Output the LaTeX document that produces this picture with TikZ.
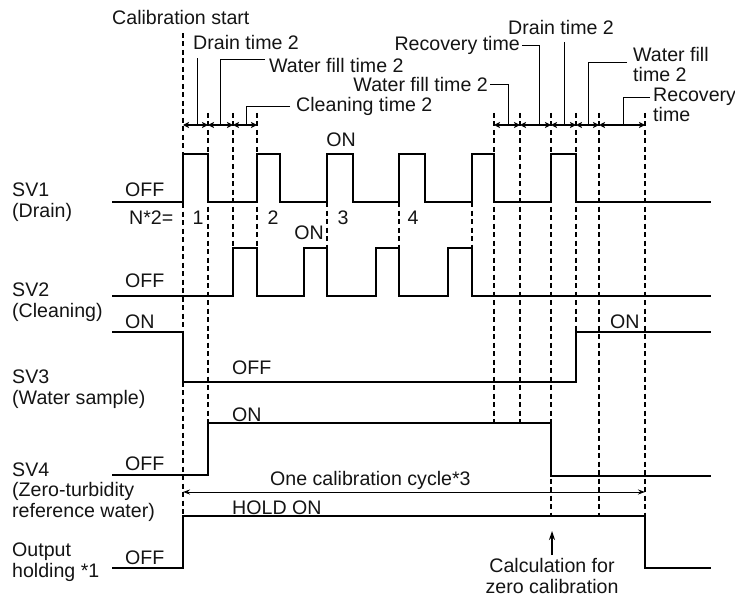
\documentclass[tikz,border=0pt]{standalone}
\usepackage{fontspec}
\setmainfont{Liberation Sans}
\usetikzlibrary{arrows.meta}
\usepackage{xcolor}
\definecolor{linecol}{RGB}{0,0,0}
\definecolor{textcol}{RGB}{20,20,20}

\begin{document}
\begin{tikzpicture}[
    x=1pt, y=-1pt,
    lbl/.style     = {inner sep=0pt, anchor=base west, align=left,
                      text=textcol, font=\fontsize{19.6}{20.5}\selectfont},
    lblr/.style    = {lbl, anchor=base east, align=right},
    cnt/.style     = {lbl, anchor=base, align=center},
    signal/.style  = {line width=2pt, color=linecol, line join=miter},
    guide/.style   = {line width=1.5pt, color=linecol,
                      dash pattern=on 5pt off 3.5pt},
    dim/.style     = {{Stealth[length=6pt,width=6pt,inset=1.5pt]}-{Stealth[length=6pt,width=6pt,inset=1.5pt]},
                      line width=1.2pt, color=linecol},
    leader/.style  = {line width=1pt, color=linecol},
    pointer/.style = {-{Stealth[length=9pt,width=6pt]}, line width=1.3pt,
                      color=linecol},
    span/.style    = {{Stealth[length=7pt,width=5pt]}-{Stealth[length=7pt,width=5pt]},
                      line width=1pt, color=linecol},
]
\useasboundingbox (0,0) rectangle (735,596);

% ── Time guides ─────────────────────────────────────────────────
\foreach \x/\ya/\yb in {183/33/516, 208/113/423, 233/113/248, 257/113/248,
                        327/202/248, 399/202/248, 472/202/248,
                        494/113/423, 520/113/423, 551/113/516,
                        576/113/332, 599/113/516, 645/113/516}
    \draw[guide] (\x,\ya) -- (\x,\yb);

% ── Signal lines ────────────────────────────────────────────────
\draw[signal] (112,202) -- (183,202) -- (183,154) -- (208,154) -- (208,202)
    -- (257,202) -- (257,154) -- (280,154) -- (280,202)
    -- (327,202) -- (327,154) -- (353,154) -- (353,202)
    -- (399,202) -- (399,154) -- (425,154) -- (425,202)
    -- (472,202) -- (472,154) -- (494,154) -- (494,202)
    -- (551,202) -- (551,154) -- (576,154) -- (576,202) -- (711,202);
\draw[signal] (112,296) -- (233,296) -- (233,248) -- (257,248) -- (257,296)
    -- (304,296) -- (304,248) -- (327,248) -- (327,296)
    -- (376,296) -- (376,248) -- (399,248) -- (399,296)
    -- (448,296) -- (448,248) -- (472,248) -- (472,296) -- (711,296);
\draw[signal] (112,332) -- (183,332) -- (183,382) -- (576,382) -- (576,332)
    -- (711,332);
\draw[signal] (112,475) -- (208,475) -- (208,423) -- (551,423) -- (551,476)
    -- (711,476);
\draw[signal] (112,568) -- (183,568) -- (183,516) -- (645,516) -- (645,568)
    -- (711,568);

% ── Signal names ────────────────────────────────────────────────
\node[lbl] (sv1) at (12,217) {SV1\\(Drain)};
\node[lbl] (sv2) at (12,317) {SV2\\(Cleaning)};
\node[lbl] (sv3) at (12,404) {SV3\\(Water sample)};
\node[lbl] (sv4) at (12,517) {SV4\\(Zero-turbidity\\reference water)};
\node[lbl] (outh) at (12,577) {Output\\holding *1};

% ── States ──────────────────────────────────────────────────────
\node[lbl] (off1) at (125,196.5) {OFF};
\node[lbl] (nrep) at (129,224.5) {N*2=};
\node[cnt] (rep1) at (198,224.5) {1};
\node[cnt] (rep2) at (273,224.5) {2};
\node[cnt] (rep3) at (343,224.5) {3};
\node[cnt] (rep4) at (413,224.5) {4};
\node[cnt] (on1) at (341,147) {ON};
\node[lblr] (on2) at (324,239) {ON};
\node[lbl] (off2) at (125,287) {OFF};
\node[lbl] (on3a) at (125,328) {ON};
\node[lbl] (off3) at (232,374) {OFF};
\node[lbl] (on3b) at (610,328) {ON};
\node[lbl] (on4) at (232,421) {ON};
\node[lbl] (off4) at (125,470) {OFF};
\node[lbl] (hold) at (232,514) {HOLD ON};
\node[lbl] (offo) at (125,564) {OFF};

% ── Step spans ──────────────────────────────────────────────────
\foreach \n/\x in {a/183, b/208, c/233, d/257}
    \coordinate (L\n) at (\x,125);
\foreach \n/\x in {a/494, b/520, c/551, d/576, e/599, f/645}
    \coordinate (R\n) at (\x,125);
\draw[dim] (La) -- (Lb);
\draw[dim] (Lb) -- (Lc);
\draw[dim] (Lc) -- (Ld);
\draw[dim] (Ra) -- (Rb);
\draw[dim] (Rb) -- (Rc);
\draw[dim] (Rc) -- (Rd);
\draw[dim] (Rd) -- (Re);
\draw[dim] (Re) -- (Rf);

% ── Step names and leaders ──────────────────────────────────────
\node[lbl] (calst) at (112,24.5) {Calibration start};
\node[lbl] (drA) at (193,50) {Drain time 2};
\node[lbl] (wfA) at (269,73) {Water fill time 2};
\node[lbl] (clA) at (296,112) {Cleaning time 2};
\node[lblr] (rcA) at (520,51) {Recovery time};
\node[lblr] (wfB) at (488,92) {Water fill time 2};
\node[lbl] (drB) at (508,35) {Drain time 2};
\node[lbl] (wfC) at (633,82) {Water fill\\time 2};
\node[lbl] (rcB) at (653,122) {Recovery\\time};

\draw[leader] ([yshift=-8pt]drA.south -| 197,0) -- (197,124);
\draw[leader] (wfA.west |- 0,60) ++(-4,0) -| (220,124);
\draw[leader] (clA.west |- 0,107) ++(-6,0) -| (246,124);
\draw[leader] (rcA.east |- 0,46) ++(2,0) -| (539,124);
\draw[leader] (wfB.east |- 0,85) ++(2,0) -| (508,124);
\draw[leader] ([yshift=-7pt]drB.south -| 564,0) -- (564,124);
\draw[leader] (wfC.west |- 0,63) ++(-6,0) -| (588,124);
\draw[leader] (rcB.west |- 0,98) ++(-3,0) -| (623,124);

% ── Calibration cycle ───────────────────────────────────────────
\coordinate (cycL) at (183,492);
\coordinate (cycR) at (645,492);
\draw[span] (cycL) -- (cycR);
\node[lbl] (cyc) at (270,485) {One calibration cycle*3};

\node[cnt] (calc) at (552,593) {Calculation for\\zero calibration};
\draw[pointer] (552,555) -- (552,531);

\end{tikzpicture}
\end{document}
